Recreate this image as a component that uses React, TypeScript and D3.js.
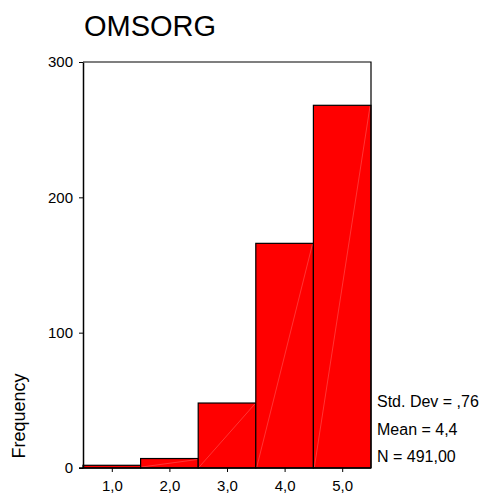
import { useRef, useEffect } from 'react'
import * as d3 from 'd3'

const categories = [1, 2, 3, 4, 5]
const counts = [2, 7, 48, 166, 268]
const yTicks = [0, 100, 200, 300]
const statLines = ['Std. Dev = ,76', 'Mean = 4,4', 'N = 491,00']

const fmt = (v: number) => v.toFixed(1).replace('.', ',')

export default function App() {
  const svgRef = useRef<SVGSVGElement>(null)

  useEffect(() => {
    if (!svgRef.current) return
    const w = 485
    const h = 497
    const margin = { top: 62, right: 114, bottom: 29, left: 83 }
    const innerW = w - margin.left - margin.right
    const innerH = h - margin.top - margin.bottom
    const font = 'Liberation Sans, Arial, sans-serif'

    const svg = d3.select(svgRef.current)
    svg.selectAll('*').remove()
    svg.attr('width', w).attr('height', h)

    const x = d3.scaleLinear().domain([0.5, 5.5]).range([0, innerW])
    const y = d3.scaleLinear().domain([0, 300]).range([innerH, 0])

    // title
    svg.append('text')
      .attr('x', 150)
      .attr('y', 36)
      .attr('text-anchor', 'middle')
      .attr('font-family', font)
      .attr('font-size', '29px')
      .attr('fill', '#000')
      .text('OMSORG')

    const g = svg.append('g').attr('transform', `translate(${margin.left},${margin.top})`)

    // bars
    const data = categories.map((c, i) => ({ c, n: counts[i] }))
    g.selectAll('.bar')
      .data(data)
      .join('rect')
      .attr('class', 'bar')
      .attr('x', (d) => x(d.c - 0.5))
      .attr('y', (d) => y(d.n))
      .attr('width', (d) => x(d.c + 0.5) - x(d.c - 0.5))
      .attr('height', (d) => innerH - y(d.n))
      .attr('fill', '#ff0000')
      .attr('stroke', '#000')
      .attr('stroke-width', 1.2)

    // faint diagonal artifacts inside bars
    g.selectAll('.diag')
      .data(data.filter((d) => d.n > 5))
      .join('line')
      .attr('x1', (d) => x(d.c - 0.5) + 1)
      .attr('y1', innerH - 1)
      .attr('x2', (d) => x(d.c + 0.5) - 1)
      .attr('y2', (d) => y(d.n) + 1)
      .attr('stroke', '#ffb0b0')
      .attr('stroke-width', 0.5)
      .attr('opacity', 0.6)

    // frame top & right
    g.append('path')
      .attr('d', `M0,0H${innerW}V${innerH}`)
      .attr('fill', 'none')
      .attr('stroke', '#000')
      .attr('stroke-width', 1.2)

    // left axis
    const yAxis = g.append('g').call(
      d3.axisLeft(y).tickValues(yTicks).tickSize(4).tickSizeOuter(0).tickPadding(6)
    )
    yAxis.select('.domain').attr('stroke', '#000').attr('stroke-width', 1.5)
    yAxis.selectAll('line').attr('stroke', '#000')
    yAxis.selectAll('text')
      .attr('font-family', font)
      .attr('font-size', '15px')
      .attr('fill', '#000')

    // bottom axis
    const xAxis = g.append('g')
      .attr('transform', `translate(0,${innerH})`)
      .call(
        d3.axisBottom(x).tickValues(categories).tickSize(4).tickSizeOuter(0).tickPadding(8)
          .tickFormat((d) => fmt(d as number))
      )
    xAxis.select('.domain').attr('stroke', '#000').attr('stroke-width', 1.5)
      .attr('d', `M-4,0H${innerW}`)
    xAxis.selectAll('line').attr('stroke', '#000')
    xAxis.selectAll('text')
      .attr('font-family', font)
      .attr('font-size', '15px')
      .attr('fill', '#000')

    // y label
    svg.append('text')
      .attr('transform', `translate(25,416) rotate(-90)`)
      .attr('text-anchor', 'middle')
      .attr('font-family', font)
      .attr('font-size', '18px')
      .attr('fill', '#000')
      .text('Frequency')

    // stats
    svg.selectAll('.stat')
      .data(statLines)
      .join('text')
      .attr('class', 'stat')
      .attr('x', margin.left + innerW + 6)
      .attr('y', (_, i) => 407 + i * 27.5)
      .attr('font-family', font)
      .attr('font-size', '16px')
      .attr('fill', '#000')
      .text((d) => d)
  }, [])

  return (
    <div style={{ position: 'absolute', left: 0, top: 0 }}>
      <svg ref={svgRef} style={{ display: 'block', background: '#fff' }} />
    </div>
  )
}
